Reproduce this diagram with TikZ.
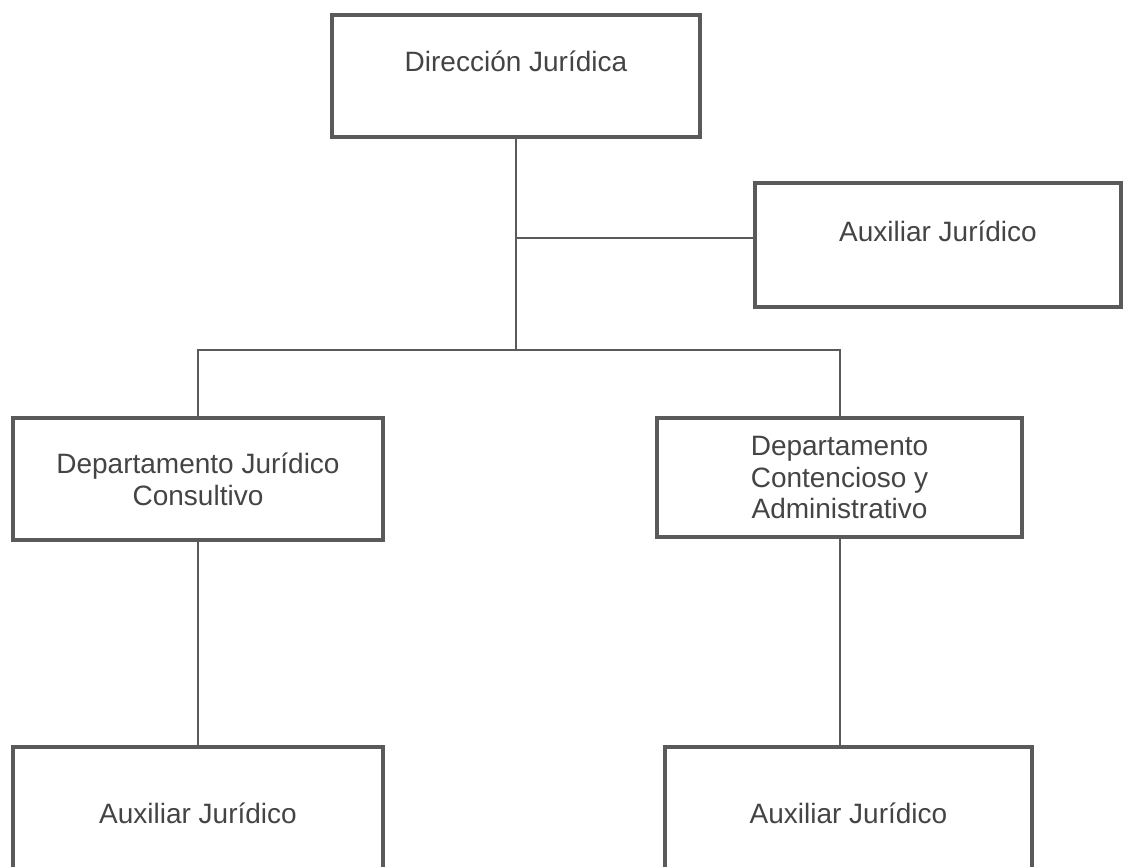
\documentclass[tikz,border=0pt]{standalone}
\usepackage{fontspec}
\setmainfont{Liberation Sans}
\usetikzlibrary{positioning}
\definecolor{boxgray}{HTML}{5A5A5A}
\definecolor{textgray}{HTML}{444444}
\tikzset{
        x=0.5pt, y=-0.5pt, % one unit is one pixel, counted from the top left corner
        unit/.style={rectangle, draw=boxgray, line width=2pt, align=center, text=textgray,
          font=\fontsize{14}{16}\selectfont}, % sets properties for each box of the chart
        link/.style={draw=boxgray, line width=1pt}, % plain lines between the boxes
    }
\begin{document}
\begin{tikzpicture}
    \useasboundingbox (0,0) rectangle (1125,867);
    \clip (0,0) rectangle (1125,867);
    \node[unit, minimum width=184pt, minimum height=61pt, text depth=14.5pt] (1) at (516,76) {Dirección Jurídica};
    \node[unit, minimum width=183pt, minimum height=62pt, text depth=13.5pt] (2) at (938,245) {Auxiliar Jurídico};
    \node[unit, minimum width=185pt, minimum height=61pt] (3) at (198,479) {Departamento Jurídico\\Consultivo};
    \node[unit, minimum width=182.5pt, minimum height=59.5pt] (4) at (839.5,477.5) {Departamento\\Contencioso y\\Administrativo};
    \node[unit, minimum width=185pt, minimum height=66pt, below=101.5pt of 3] (5) {Auxiliar Jurídico};
    \node[unit, minimum width=183.5pt, minimum height=66pt, below=103pt of 4, xshift=4.5pt] (6) {Auxiliar Jurídico};
    \coordinate (s) at (516,350);
    \coordinate (t) at (516,238);
    \draw[link]
      (1) -- (s)
      (t) -- (t -| 2.west)
      (3) |- (s) -| (4)
      (3) -- (5)
      (4.south) -- (4.south |- 6.north);
  \end{tikzpicture}
\end{document}
